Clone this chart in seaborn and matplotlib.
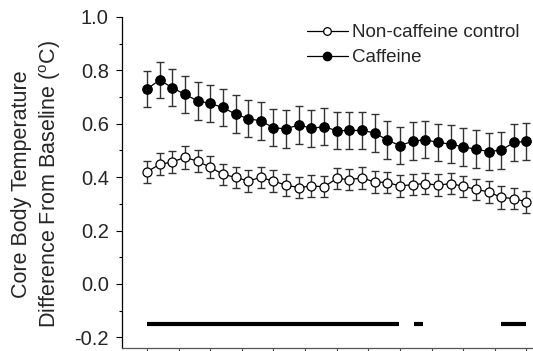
import numpy as np
import pandas as pd
import matplotlib
matplotlib.use("Agg")
import matplotlib.pyplot as plt
from matplotlib.lines import Line2D
from matplotlib.ticker import MultipleLocator, FormatStrFormatter
import seaborn as sns

# ---- data ----
time_min = [0, 2, 4, 6, 8, 10, 12, 14, 16, 18, 20, 22, 24, 26, 28, 30,
            32, 34, 36, 38, 40, 42, 44, 46, 48, 50, 52, 54, 56, 58, 60]
caffeine = [0.730, 0.764, 0.735, 0.710, 0.686, 0.676, 0.661, 0.636, 0.619, 0.611,
            0.585, 0.581, 0.596, 0.583, 0.589, 0.574, 0.575, 0.575, 0.566, 0.539,
            0.518, 0.535, 0.540, 0.530, 0.524, 0.513, 0.505, 0.496, 0.501, 0.530, 0.534]
caffeine_sem = [0.068, 0.069, 0.070, 0.070, 0.070, 0.070, 0.070, 0.070, 0.070, 0.070,
                0.070, 0.070, 0.070, 0.070, 0.070, 0.070, 0.070, 0.070, 0.070, 0.070,
                0.070, 0.070, 0.070, 0.070, 0.070, 0.070, 0.070, 0.070, 0.070, 0.070, 0.070]
control = [0.420, 0.448, 0.457, 0.474, 0.460, 0.437, 0.411, 0.399, 0.386, 0.399,
           0.385, 0.370, 0.361, 0.367, 0.364, 0.395, 0.391, 0.397, 0.382, 0.380,
           0.367, 0.372, 0.376, 0.370, 0.376, 0.366, 0.354, 0.345, 0.324, 0.320, 0.307]
control_sem = [0.040, 0.041, 0.041, 0.042, 0.041, 0.041, 0.040, 0.040, 0.040, 0.040,
               0.040, 0.040, 0.040, 0.040, 0.040, 0.040, 0.040, 0.040, 0.040, 0.040,
               0.040, 0.040, 0.040, 0.040, 0.040, 0.040, 0.040, 0.040, 0.042, 0.040, 0.040]
sig_starts = [0, 42.2, 56]
sig_ends = [39.8, 43.6, 60]
sig_level = -0.15
series_labels = ["Non-caffeine control", "Caffeine"]
y_label = "Core Body Temperature\nDifference From Baseline ($^{\\mathrm{o}}$C)"

# ---- style ----
sns.set_style("ticks")
plt.rcParams["font.family"] = ["Liberation Sans", "DejaVu Sans"]
plt.rcParams["mathtext.fontset"] = "custom"
plt.rcParams["mathtext.rm"] = "Liberation Sans"
plt.rcParams["axes.unicode_minus"] = False

fig = plt.figure(figsize=(5.33, 3.51), dpi=100)
ax = fig.add_axes([122 / 533, 1 - 348 / 351, 1 - 122 / 533, (348 - 17) / 351])

df = pd.DataFrame({
    "time": time_min * 2,
    "value": control + caffeine,
    "sem": control_sem + caffeine_sem,
    "group": [series_labels[0]] * len(time_min) + [series_labels[1]] * len(time_min),
})

# error bars
for g in series_labels:
    sub = df[df["group"] == g]
    ax.errorbar(sub["time"], sub["value"], yerr=sub["sem"], fmt="none",
                ecolor="#333333", elinewidth=1.0, capsize=3.0, capthick=1.0, zorder=2)

# lines + markers
sub_c = df[df["group"] == series_labels[0]]
sns.lineplot(data=sub_c, x="time", y="value", ax=ax, color="black", lw=0.9,
             marker="o", markersize=6.5, markerfacecolor="white",
             markeredgecolor="black", markeredgewidth=0.9, zorder=3, legend=False)
sub_f = df[df["group"] == series_labels[1]]
sns.lineplot(data=sub_f, x="time", y="value", ax=ax, color="black", lw=0.9,
             marker="o", markersize=6.8, markerfacecolor="black",
             markeredgecolor="black", markeredgewidth=0.9, zorder=3, legend=False)

# significance bars
for s, e in zip(sig_starts, sig_ends):
    ax.plot([s, e], [sig_level, sig_level], color="black", lw=3.0,
            solid_capstyle="butt", zorder=3)

ax.set_xlim(-3.95, 61.03)
ax.set_ylim(-0.24, 1.0)
ax.set_xlabel("")
ax.set_ylabel("")
ax.xaxis.set_major_locator(MultipleLocator(5))
ax.set_xticklabels([])
ax.yaxis.set_major_locator(MultipleLocator(0.2))
ax.yaxis.set_minor_locator(MultipleLocator(0.1))
ax.yaxis.set_major_formatter(FormatStrFormatter("%.1f"))
ax.tick_params(axis="y", which="major", length=4.5, width=0.8, labelsize=14.5, pad=5, color="black")
ax.tick_params(axis="y", which="minor", length=2.5, width=0.8, color="black")
ax.tick_params(axis="x", which="major", length=5, width=0.8, color="#444444")
for sp in ["top", "right"]:
    ax.spines[sp].set_visible(False)
ax.spines["left"].set_linewidth(0.9)
ax.spines["left"].set_color("black")
ax.spines["bottom"].set_linewidth(0.9)
ax.spines["bottom"].set_color("#555555")
ax.spines["left"].set_bounds(-0.24, 1.0)

fig.text(37 / 533, 1 - 184 / 351, y_label, rotation=90, ha="center", va="center",
         fontsize=15.5, linespacing=1.3, multialignment="center")

handles = [
    Line2D([], [], color="black", lw=0.9, marker="o", markersize=5.5,
           markerfacecolor="white", markeredgecolor="black", markeredgewidth=0.9),
    Line2D([], [], color="black", lw=0.9, marker="o", markersize=6,
           markerfacecolor="black", markeredgecolor="black"),
]
fig.legend(handles, series_labels, loc="upper left",
           bbox_to_anchor=(306.7 / 533, 1 - 24 / 351), frameon=False,
           fontsize=13.5, handlelength=2.2, handletextpad=0.2,
           labelspacing=0.42, borderpad=0, borderaxespad=0)

fig.savefig("out.png", dpi=100)
